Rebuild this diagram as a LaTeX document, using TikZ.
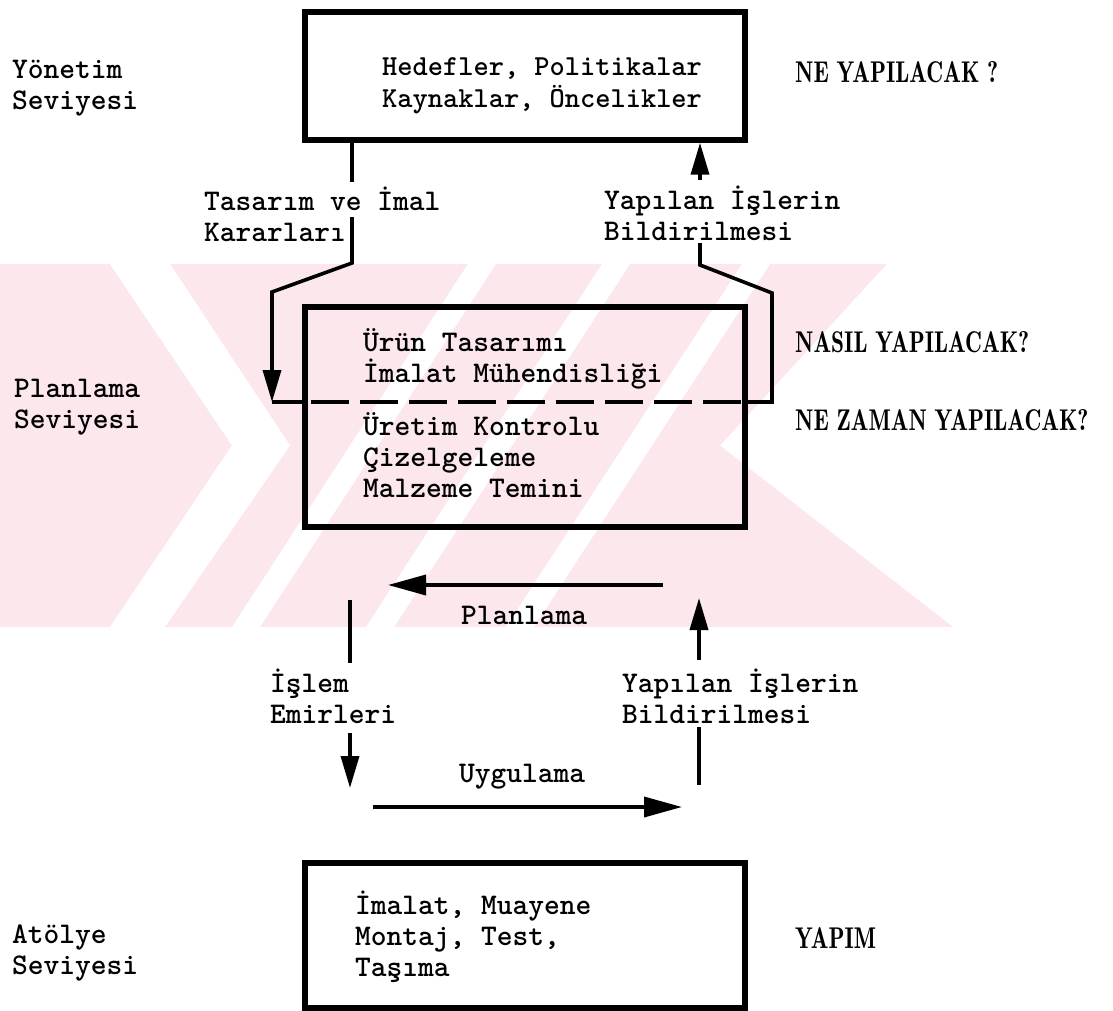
\documentclass[tikz,border=0pt]{standalone}
\usepackage{fontspec}
\usetikzlibrary{arrows.meta}
\newfontfamily\tw{lmmonolt10-bold.otf}
\newfontfamily\capsfont{lmromandemi10-regular.otf}
\definecolor{wmpink}{RGB}{252,231,236}
\begin{document}
\begin{tikzpicture}[x=1pt,y=-1pt,
  box/.style={draw, line width=5.5pt, minimum width=440pt, inner sep=0pt},
  txt/.style={font=\tw\fontsize{30}{31}\selectfont, anchor=west, inner sep=0pt, align=left},
  qtxt/.style={font=\capsfont\fontsize{30}{31}\selectfont, anchor=west, inner sep=0pt},
  conn/.style={line width=3.6pt, line join=miter},
  arr/.style={conn, -{Triangle[length=32pt,width=18pt]}},
  bigarr/.style={conn, -{Triangle[length=38pt,width=20pt]}},
  dashline/.style={line width=3.6pt, dash pattern=on 38pt off 11pt, dash phase=-9pt},
  gap/.style={fill=white}]
\useasboundingbox (0,0) rectangle (1113,1011);

% faint background emblem: striped pink field with chevron cut-outs
\begin{scope}
  \clip (0,264) -- (887,264) -- (720,445.5) -- (953,627) -- (0,627) -- cycle;
  \fill[wmpink] (0,264) rectangle (960,627);
  \fill[gap] (110,264) -- (170,264) -- (290,445.5) -- (165,627) -- (110,627) -- (232,445.5) -- cycle;
  \foreach \c in {482,616,756}
    \fill[gap] (\c-14,264) -- (\c+14,264) -- (\c+14-236,627) -- (\c-14-236,627) -- cycle;
\end{scope}

% level boxes
\node[box, minimum height=128pt] (top) at (525,76) {};
\node[box, minimum height=220pt] (mid) at (525,417) {};
\node[box, minimum height=145pt] (bot) at (525,935.5) {};

% level names
\node[txt] (lv1) at (12,88) {Yönetim\\Seviyesi};
\node[txt] (lv2) at (14,407) {Planlama\\Seviyesi};
\node[txt] (lv3) at (12,953) {Atölye\\Seviyesi};

% box contents
\node[txt, font=\tw\fontsize{29}{32}\selectfont] (topt) at (382,86) {Hedefler, Politikalar\\Kaynaklar, Öncelikler};
\node[txt] (midt1) at (363,359) {Ürün Tasarımı\\İmalat Mühendisliği};
\node[txt] (midt2) at (363,455) {Üretim Kontrolu\\Çizelgeleme\\Malzeme Temini};
\node[txt] (bott) at (355,937) {İmalat, Muayene\\Montaj, Test,\\Taşıma};

% questions on the right
\node[qtxt] (q1) at (795,72) {\scalebox{0.78}[1]{NE YAPILACAK ?}};
\node[qtxt] (q2) at (795,342) {\scalebox{0.78}[1]{NASIL YAPILACAK?}};
\node[qtxt] (q3) at (795,420) {\scalebox{0.78}[1]{NE ZAMAN YAPILACAK?}};
\node[qtxt] (q4) at (795,938) {\scalebox{0.78}[1]{YAPIM}};

% flow labels
\node[txt] (fl1) at (204,214) {Tasarım ve İmal\\Kararları};
\node[txt] (fl2) at (604,213) {Yapılan İşlerin\\Bildirilmesi};
\node[txt] (fl3) at (270,696) {İşlem\\Emirleri};
\node[txt] (fl4) at (622,696) {Yapılan İşlerin\\Bildirilmesi};
\node[txt, anchor=center] (fl5) at (524,615) {Planlama};
\node[txt, anchor=center] (fl6) at (522,777) {Uygulama};

% bend points of the decision and report paths
\coordinate (La) at (352,182);
\coordinate (Lb) at (352,217);
\coordinate (Lc) at (352,263);
\coordinate (Ld) at (272,292);
\coordinate (Le) at (272,402);
\coordinate (Ra) at (772,402);
\coordinate (Rb) at (772,293);
\coordinate (Rc) at (700,265);
\coordinate (Rd) at (700,243);
\coordinate (Re) at (700,180);

% decisions down to planning
\draw[conn] (top.south -| La) -- (La);
\draw[arr] (Lb) -- (Lc) -- (Ld) -- (Le);
\draw[conn] (Le) -- (mid.west |- Le);
% boundary inside the planning box
\draw[dashline] (mid.west |- Le) -- (mid.east |- Le);
% reports up to management
\draw[conn] (mid.east |- Ra) -- (Ra) -- (Rb) -- (Rc) -- (Rd);
\draw[arr] (Re) -- (top.south -| Re);

% planning / execution loop
\coordinate (Pa) at (663,585);
\coordinate (Pb) at (388,585);
\coordinate (Ia) at (350,600);
\coordinate (Ib) at (350,663);
\coordinate (Ic) at (350,733);
\coordinate (Id) at (350,788);
\coordinate (Ya) at (699,660);
\coordinate (Yb) at (699,598);
\coordinate (Yc) at (699,785);
\coordinate (Yd) at (699,727);
\coordinate (Ua) at (373,807);
\coordinate (Ub) at (682,807);

\draw[bigarr] (Pa) -- (Pb);
\draw[conn] (Ia) -- (Ib);
\draw[arr] (Ic) -- (Id);
\draw[arr] (Ya) -- (Yb);
\draw[conn] (Yc) -- (Yd);
\draw[bigarr] (Ua) -- (Ub);
\end{tikzpicture}
\end{document}
